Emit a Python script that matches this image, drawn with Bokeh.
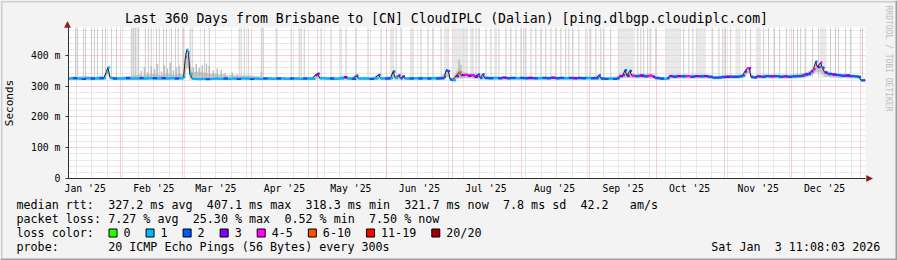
import math
from datetime import datetime, timedelta
from bokeh.plotting import figure
from bokeh.models import FixedTicker, Grid, ColumnDataSource, Range1d, GridBox
from bokeh.core.properties import value
from bokeh.embed import file_html
from bokeh.resources import INLINE

FONT = "DejaVu Sans Mono"
W, H = 897, 260
FL, FR, FT, FB = 67, 865, 27, 178   # plot frame edges in page pixels

START = datetime(2025, 1, 8, 11, 8, 3)
SPAN_DAYS = 360
Y_MAX = 491

# ---------------- data (days since start of graph, milliseconds) ----------------
med_day = [0, 2, 4, 6, 8, 10, 12, 14, 16, 17, 17.8, 18.8, 20, 22,
           24, 26, 28, 30, 32, 34, 36, 38, 40, 42, 44, 46, 48, 50, 52,
           52.8, 53.4, 54.2, 54.8, 56, 58, 60, 62, 64, 66, 68, 70, 72, 74, 76, 78, 80, 82,
           84, 86, 88, 90, 92, 94, 96, 98, 100, 102, 104, 106, 108, 110,
           111.5, 112.5, 113.5, 116, 118, 120, 122, 124.5, 126, 128, 130, 131, 134, 136, 138, 140, 141, 143,
           145.5, 146.6, 147.6, 149, 150, 151, 152, 154, 156, 158, 160, 162, 164, 166, 168, 169.8, 170.5, 171.6, 172.4, 173.5,
           175, 176.4, 177.5, 179, 180.5, 182, 183.5, 185, 186, 187, 188, 190, 192, 194, 196, 198, 200, 202, 204,
           206, 208, 210, 212, 214, 216, 218, 220, 222, 224, 226, 228, 230, 232, 234,
           236, 238, 239.5, 240.5, 242, 244, 246, 248, 249, 250.5, 251.3, 252.3, 253.5, 254.5, 256, 258, 260, 262, 264, 265,
           267, 269, 270.5, 271.5, 273, 275, 277, 279, 281, 283, 285, 287, 289, 291, 293, 295,
           297, 299, 301, 303, 304.5, 305.5, 306.5, 307.5, 308.3, 309.5, 311, 313, 315, 317, 319, 321, 323, 325,
           327, 329, 331, 332.5, 334, 335.5, 336.5, 337.5, 338.3, 339.7, 340.5, 341.5, 343, 345, 347, 349, 351, 353, 355, 357, 358, 360]
med_ms = [325, 326, 325, 324, 326, 325, 325, 326, 326, 345, 361, 327, 325, 325,
          325, 326, 325, 325, 326, 325, 326, 326, 325, 326, 325, 326, 325, 326, 330,
          395, 418, 410, 340, 324, 323, 324, 323, 324, 325, 324, 325, 324, 325, 324, 325, 325, 324,
          325, 324, 325, 325, 324, 325, 325, 324, 325, 325, 324, 325, 325, 324,
          336, 341, 326, 325, 325, 324, 325, 329, 325, 324, 334, 325, 325, 324, 325, 337, 325, 325,
          326, 348, 327, 335, 326, 332, 325, 325, 326, 325, 326, 325, 326, 325, 326, 330, 351, 349, 322, 319,
          333, 345, 336, 337, 334, 336, 331, 338, 327, 338, 327, 326, 327, 326, 328, 326, 327, 326, 327,
          326, 327, 326, 326, 327, 326, 328, 326, 327, 326, 327, 326, 327, 326, 327,
          326, 326, 335, 325, 324, 325, 324, 326, 333, 336, 352, 334, 350, 334, 333, 335, 332, 334, 331, 327,
          325, 324, 326, 333, 331, 333, 332, 333, 331, 333, 332, 333, 331, 328, 328, 330,
          331, 331, 331, 332, 335, 348, 358, 359, 330, 328, 332, 331, 333, 332, 333, 331, 332, 331,
          332, 333, 334, 338, 340, 348, 355, 380, 362, 377, 360, 345, 340, 338, 336, 334, 335, 333, 332, 330, 319, 319]
med_loss = [1, 2, 1, 2, 1, 2, 1, 2, 1, 1, 1, 1, 2, 1,
            1, 2, 1, 1, 2, 1, 1, 2, 1, 2, 1, 1, 2, 1, 1,
            2, 1, 1, 1, 1, 1, 1, 2, 1, 1, 1, 2, 1, 1, 2, 1, 1, 2,
            1, 1, 2, 1, 1, 2, 1, 1, 2, 1, 1, 2, 1, 1,
            3, 3, 1, 1, 2, 1, 1, 3, 1, 2, 2, 1, 1, 2, 1, 2, 1, 2,
            1, 2, 1, 3, 2, 3, 1, 2, 1, 2, 1, 2, 1, 2, 2, 2, 2, 2, 2, 1,
            3, 5, 3, 4, 3, 4, 3, 2, 2, 2, 2, 2, 1, 2, 3, 2, 2, 1, 2,
            2, 3, 2, 1, 2, 2, 3, 2, 2, 1, 2, 3, 2, 2, 1,
            2, 2, 2, 2, 2, 1, 2, 2, 3, 3, 2, 3, 2, 4, 2, 3, 2, 4, 3, 2,
            2, 1, 2, 3, 2, 3, 2, 4, 2, 3, 2, 3, 2, 2, 2, 2,
            3, 2, 2, 2, 2, 3, 4, 3, 2, 2, 3, 2, 2, 3, 2, 2, 3, 2,
            2, 2, 2, 3, 2, 3, 4, 2, 3, 4, 2, 3, 2, 3, 2, 2, 3, 2, 2, 2, 2, 2]
smoke_hi = [330, 332, 331, 333, 334, 332, 331, 333, 334, 350, 364, 335, 331, 330,
            331, 333, 333, 336, 338, 334, 338, 340, 338, 336, 340, 338, 336, 340, 338,
            405, 426, 420, 380, 345, 348, 346, 344, 340, 342, 338, 340, 335, 338, 334, 336, 335, 336,
            333, 332, 330, 331, 330, 331, 330, 331, 330, 330, 331, 330, 331, 330,
            340, 344, 332, 331, 330, 332, 331, 336, 332, 330, 340, 330, 331, 330, 332, 341, 331, 331,
            333, 352, 333, 339, 332, 336, 330, 331, 330, 331, 332, 330, 331, 332, 333, 340, 355, 353, 330, 326,
            345, 360, 350, 345, 342, 342, 340, 342, 334, 342, 333, 331, 332, 331, 333, 331, 332, 331, 332,
            331, 333, 331, 331, 332, 331, 333, 331, 332, 331, 332, 332, 331, 332, 332,
            331, 332, 338, 331, 330, 330, 331, 334, 340, 345, 356, 342, 353, 342, 340, 341, 340, 341, 338, 333,
            331, 330, 331, 338, 337, 338, 338, 339, 337, 338, 338, 339, 337, 333, 334, 335,
            336, 337, 336, 338, 340, 352, 362, 363, 340, 334, 338, 337, 339, 338, 339, 337, 338, 337,
            338, 340, 342, 345, 348, 355, 360, 384, 368, 380, 366, 352, 346, 344, 342, 340, 341, 339, 338, 336, 325, 325]
smoke_lo = [321, 321, 321, 320, 321, 320, 321, 321, 322, 330, 340, 322, 321, 321,
            321, 321, 321, 321, 321, 321, 321, 321, 321, 321, 321, 321, 321, 321, 322,
            330, 360, 355, 322, 320, 320, 320, 320, 320, 320, 320, 321, 320, 321, 320, 321, 321, 320,
            321, 320, 321, 321, 320, 321, 321, 320, 321, 321, 320, 321, 321, 320,
            322, 325, 321, 321, 321, 320, 321, 322, 321, 320, 321, 321, 321, 320, 321, 322, 321, 321,
            321, 325, 321, 322, 321, 322, 321, 321, 321, 321, 321, 321, 321, 321, 321, 322, 330, 330, 318, 316,
            322, 325, 324, 326, 325, 326, 323, 323, 322, 323, 322, 321, 322, 321, 322, 321, 322, 321, 322,
            321, 322, 321, 321, 322, 321, 322, 321, 322, 321, 322, 321, 322, 321, 322,
            321, 321, 322, 320, 320, 320, 320, 321, 325, 326, 328, 326, 328, 326, 325, 326, 325, 326, 324, 322,
            320, 320, 321, 324, 324, 325, 325, 325, 324, 325, 325, 325, 324, 322, 322, 323,
            324, 324, 324, 324, 326, 330, 340, 342, 325, 323, 325, 324, 325, 324, 325, 324, 324, 324,
            325, 325, 326, 328, 330, 335, 340, 345, 345, 345, 340, 332, 330, 328, 328, 326, 327, 325, 325, 324, 316, 316]

# medium smoke spikes (single slow pings), day and top in ms
mid_day = [32.9, 34.3, 35.6, 37.4, 38.8, 40.1, 42.0, 43.3, 44.7, 46.0, 47.4, 48.7, 50.1,
           56.4, 57.7, 59.1, 60.4, 62.3, 63.6, 65.4, 67.2, 69.0, 70.8, 74.0, 76.2, 87.1, 176.4, 177.2]
mid_top = [350, 362, 345, 366, 356, 372, 348, 368, 358, 376, 352, 362, 366,
           362, 372, 360, 368, 374, 366, 352, 358, 354, 342, 345, 340, 348, 387, 370]

# single pings far above the scale (tall smoke lines), days since start
tall_day = [3.2, 4.1, 6.8, 7.7, 10.4, 11.7, 13.1, 15.3, 16.7, 19.4, 21.7,
            28.4, 29.3, 30.2, 31.6, 34.7, 36.1, 37.4, 39.7, 41.0, 42.9, 44.2, 46.5, 48.3, 49.6,
            51.9, 55.0, 55.9, 61.4, 63.6, 77.1, 78.0, 79.4, 81.2,
            87.1, 88.0, 93.8, 100.6, 104.2, 105.1, 106.5,
            114.1, 118.6, 123.1, 125.4, 129.9, 135.3, 141.2, 145.7, 146.6, 148.0, 150.2, 154.7, 155.6,
            159.2, 162.4, 164.7, 168.3, 180.0, 181.8,
            182.7, 184.1, 185.4, 188.6, 190.8, 193.1, 194.4, 197.6, 199.8, 202.1, 204.4, 205.7, 206.6,
            208.9, 211.1, 213.4, 215.6,
            217.9, 220.1, 222.4, 224.6, 226.0, 227.8, 230.5, 233.7, 235.9, 238.2, 240.4,
            241.8, 244.9, 257.1, 258.5, 259.8, 261.6, 263.0, 265.3,
            277.9, 280.2, 282.0, 291.0, 293.8, 295.5, 296.8, 299.1,
            305.9, 308.1, 314.0, 316.2, 318.9, 321.2, 324.3, 327.5, 329.3, 330.7,
            333.0, 336.1, 338.8, 344.2, 346.4, 347.8, 351.0, 353.2, 358.6]
band_start = [28.4, 169.6, 173.7, 248.1, 269.7, 283.3, 301.3, 310.4, 339.7]
band_end = [32.0, 171.9, 179.5, 255.3, 276.5, 287.8, 303.6, 312.7, 342.4]
smoke_floor_ms = 328

loss_labels = ["0", "1", "2", "3", "4-5", "6-10", "11-19", "20/20"]
loss_colors = ["#26ff00", "#00b8ff", "#0059ff", "#7e00ff", "#ff00ff", "#ff5500", "#ff0000", "#a10000"]

month_labels = ["Jan '25", "Feb '25", "Mar '25", "Apr '25", "May '25", "Jun '25",
                "Jul '25", "Aug '25", "Sep '25", "Oct '25", "Nov '25", "Dec '25"]
y_ticks = [0, 100, 200, 300, 400]
y_tick_labels = ["0", "100 m", "200 m", "300 m", "400 m"]

title_text = "Last 360 Days from Brisbane to [CN] CloudIPLC (Dalian) [ping.dlbgp.cloudiplc.com]"
rtt_row = [("median rtt:", 0), ("327.2 ms avg", 13), ("407.1 ms max", 27), ("318.3 ms min", 41),
           ("321.7 ms now", 55), ("7.8 ms sd", 69), ("42.2", 80), ("am/s", 87)]
loss_row = [("packet loss:", 0), ("7.27 % avg", 13), ("25.30 % max", 25), ("0.52 % min", 38),
            ("7.50 % now", 50)]
probe_row = [("probe:", 0), ("20 ICMP Echo Pings (56 Bytes) every 300s", 13)]
date_parts = [("Sat Jan", 0), ("3 11:08:03 2026", 9)]
side_text = "RRDTOOL / TOBI OETIKER"


def days(dt):
    return (dt - START).total_seconds() / 86400.0


month_pos = [round(days(datetime(2025, m, 1)), 4) for m in range(2, 13)] + [round(days(datetime(2026, 1, 1)), 4)]
label_pos = [round(days(datetime(2025, m, 1) + timedelta(days=15)), 4) for m in range(1, 13)]
week_pos = []
wk = datetime(2025, 1, 12)
while days(wk) < SPAN_DAYS:
    week_pos.append(round(days(wk), 4))
    wk += timedelta(days=7)
minor_y = [v for v in range(20, Y_MAX, 20) if v % 100]

# ---------------- main chart ----------------
fig = figure(width=W, height=H, x_range=Range1d(0, SPAN_DAYS), y_range=Range1d(0, Y_MAX),
             output_backend="svg", toolbar_location=None,
             min_border_left=FL, min_border_right=W - FR, min_border_top=FT, min_border_bottom=H - FB,
             background_fill_color="#ffffff", border_fill_color="#f3f3f3", outline_line_color=None)
fig.title.visible = False
fig.frame_align = False

MAJOR_GRID = "#f0a4a4"
MINOR_GRID = "#d2d2d2"

fig.xgrid.ticker = FixedTicker(ticks=month_pos)
fig.xgrid.grid_line_color = MAJOR_GRID
fig.xgrid.grid_line_dash = "1 1"
week_grid = Grid(dimension=0, ticker=FixedTicker(ticks=week_pos),
                 grid_line_color=MINOR_GRID, grid_line_dash="1 1")
fig.center = [week_grid] + list(fig.center)

fig.ygrid.ticker = FixedTicker(ticks=[t for t in y_ticks if t > 0], minor_ticks=minor_y)
fig.ygrid.grid_line_color = MAJOR_GRID
fig.ygrid.grid_line_dash = "1 1"
fig.ygrid.minor_grid_line_color = MINOR_GRID
fig.ygrid.minor_grid_line_dash = "1 1"

fig.xaxis.ticker = FixedTicker(ticks=label_pos)
fig.xaxis.major_label_overrides = dict(zip(label_pos, month_labels))
fig.xaxis.major_tick_line_color = None
fig.xaxis.major_tick_out = 0
fig.xaxis.major_tick_in = 0
fig.xaxis.minor_tick_line_color = None
fig.xaxis.axis_line_color = "#303030"
fig.xaxis.major_label_text_font = FONT
fig.xaxis.major_label_text_font_size = "9.8px"
fig.xaxis.major_label_text_color = "#000000"
fig.xaxis.major_label_standoff = 4

fig.yaxis.ticker = FixedTicker(ticks=y_ticks)
fig.yaxis.major_label_overrides = dict(zip(y_ticks, y_tick_labels))
fig.yaxis.major_tick_in = 0
fig.yaxis.major_tick_out = 3
fig.yaxis.major_tick_line_color = "#303030"
fig.yaxis.minor_tick_line_color = None
fig.yaxis.axis_line_color = "#303030"
fig.yaxis.major_label_text_font = FONT
fig.yaxis.major_label_text_font_size = "9.8px"
fig.yaxis.major_label_text_color = "#000000"
fig.yaxis.major_label_standoff = 5
fig.yaxis.axis_label = "Seconds"
fig.yaxis.axis_label_text_font = FONT
fig.yaxis.axis_label_text_font_style = "normal"
fig.yaxis.axis_label_text_font_size = "11px"
fig.yaxis.axis_label_text_color = "#000000"
fig.yaxis.axis_label_standoff = 12

# smoke
fig.quad(left=band_start, right=band_end, bottom=[smoke_floor_ms] * len(band_start),
         top=[Y_MAX] * len(band_start), fill_color="#d4d4d4", fill_alpha=0.5, line_color=None)
fig.segment(x0=tall_day, y0=[smoke_floor_ms] * len(tall_day), x1=tall_day, y1=[Y_MAX] * len(tall_day),
            line_color="#c4c4c4", line_width=1, line_alpha=0.85)
fig.segment(x0=mid_day, y0=[smoke_floor_ms] * len(mid_day), x1=mid_day, y1=mid_top,
            line_color="#b8b8b8", line_width=1.5, line_alpha=0.9)
fig.varea(x=med_day, y1=smoke_lo, y2=smoke_hi, fill_color="#b4b4b4", fill_alpha=0.7)

# median with loss colour
fig.line(med_day, med_ms, line_color="#202020", line_width=1)
seg = ColumnDataSource(dict(
    x0=med_day[:-1], x1=med_day[1:], y=med_ms[:-1],
    color=[loss_colors[k] for k in med_loss[:-1]]))
fig.segment(x0="x0", y0="y", x1="x1", y1="y", source=seg, line_color="color", line_width=2.4)

# ---------------- page overlay (texts, legend, frame) in page pixels ----------------
ovl = figure(width=W, height=H, x_range=Range1d(0, W), y_range=Range1d(H, 0),
             x_axis_type=None, y_axis_type=None, output_backend="svg", toolbar_location=None,
             min_border=0, background_fill_alpha=0, border_fill_alpha=0, outline_line_color=None)
ovl.title.visible = False
ovl.frame_align = False
ovl.xgrid.visible = False
ovl.ygrid.visible = False

TXT = dict(text_font=value(FONT), text_color="#000000", text_baseline="middle")
ovl.text(x=[446], y=[18], text=[title_text], text_font_size=value("13.2px"), text_align="center", **TXT)

CW = 7.05
LX = 16
rx, ry, rt = [], [], []
for row_y, row in ((204, rtt_row), (218, loss_row), (246, probe_row)):
    for s, i in row:
        rx.append(LX + i * CW)
        ry.append(row_y)
        rt.append(s)
rx.append(LX)
ry.append(232)
rt.append("loss color:")
date_x0 = 880 - 24 * CW
for s, i in date_parts:
    rx.append(date_x0 + i * CW)
    ry.append(246)
    rt.append(s)
bl = []
bx = 108
for lab in loss_labels:
    bl.append(bx)
    rx.append(bx + 15)
    ry.append(232)
    rt.append(lab)
    bx += 15 + len(lab) * CW + 15
ovl.text(x=rx, y=ry, text=rt, text_font_size=value("11.7px"), text_align="left", **TXT)
ovl.quad(left=[b + 0.5 for b in bl], right=[b + 8.5 for b in bl], top=[228.5] * len(bl),
         bottom=[236.5] * len(bl), fill_color=loss_colors, line_color="#000000", line_width=1)

ovl.text(x=[888], y=[5], text=[side_text], text_font=value(FONT), text_font_size=value("8px"),
         text_color="#bdbdbd", text_align="left", text_baseline="middle", angle=-math.pi / 2)

# axis arrow heads
ovl.patches(xs=[[64, 70, 67], [866, 866, 872]], ys=[[27, 27, 21], [175, 181, 178]],
            fill_color="#8b1a1a", line_color="#8b1a1a", line_width=0.5)

# 3D canvas frame
ovl.quad(left=[0, 0, 0, W - 2], right=[W, 2, W, W], top=[0, 0, H - 2, 0], bottom=[2, H, H, H],
         fill_color=["#cfcfcf", "#cfcfcf", "#9e9e9e", "#9e9e9e"], line_color=None)

p = GridBox(children=[(fig, 0, 0), (ovl, 0, 0)])
open("out.html", "w").write(file_html(p, INLINE))
